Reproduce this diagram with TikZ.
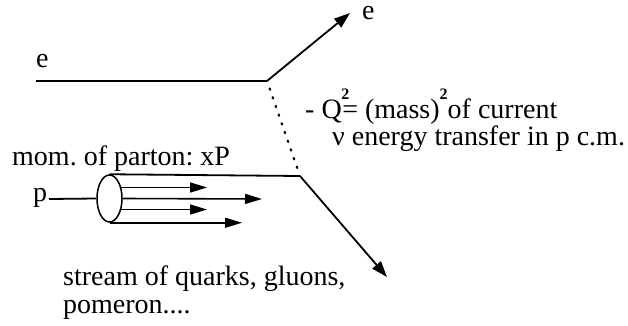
\documentclass[tikz,border=0pt]{standalone}
\usepackage{fontspec}
\setmainfont{Liberation Serif}
\usetikzlibrary{arrows.meta,shapes.geometric}
\newcommand{\supo}[1]{\rlap{\raisebox{0.66em}{\fontsize{16}{16}\selectfont\bfseries #1}}}
\frenchspacing
\begin{document}
\begin{tikzpicture}[x=1pt,y=-1pt,
  lbl/.style={anchor=base west,inner sep=0pt,font=\fontsize{28}{32}\selectfont\frenchspacing},
  ln/.style={line width=1.8pt},
  arr/.style={line width=1.8pt,-{Triangle[length=16pt,width=11pt]}},
  arrs/.style={line width=1.6pt,-{Triangle[length=17pt,width=10pt]}},
  dotl/.style={line width=2.3pt,line cap=round,dash pattern=on 1.2pt off 8pt,shorten <=8pt,shorten >=7pt}]
\useasboundingbox (0,0) rectangle (628,326);
% vertices
\coordinate (ein) at (36,81);
\coordinate (v1) at (267,81);
\coordinate (eout) at (350,13);
\coordinate (v2) at (300,176);
\coordinate (qout) at (387,277);
% proton cylinder
\node[draw,ellipse,line width=1.5pt,minimum width=25pt,minimum height=47pt,inner sep=0pt] (cyl) at (109.5,198.5) {};
\coordinate (pin) at (49,199);
\coordinate (t1) at (207,188);
\coordinate (t2) at (262,199);
\coordinate (t3) at (207,211);
\coordinate (t4) at (242,222);
% labels
\node[lbl] (le1) at (36,68) {e};
\node[lbl] (le2) at (362,20) {e};
\node[lbl] (lq) at (305,118) {- Q\kern-0.5pt\supo{2}\kern1pt= (mass)\supo{2}\kern8pt of current};
\node[lbl] (lnu) at (332,145) {ν energy transfer in p c.m.};
\node[lbl] (lmom) at (12,165) {mom. of parton: xP};
\node[lbl] (lp) at (33,201) {p};
\node[lbl] (ls1) at (63,285) {stream of quarks, gluons,};
\node[lbl] (ls2) at (63,313) {pomeron....};
% lines
\draw[ln] (ein) -- (v1);
\draw[arr] (v1) -- (eout);
\draw[dotl] (v1) -- (v2);
\draw[ln] (cyl.north) -- (v2);
\draw[arr] (v2) -- (qout);
\draw[ln] (pin) -- (cyl.west);
\draw[arrs] (cyl.43) -- (cyl.43 -| t1);
\draw[arrs] (cyl.east) -- (t2);
\draw[arrs] (cyl.-43) -- (cyl.-43 -| t3);
\draw[arrs] (cyl.south) -- (cyl.south -| t4);
\end{tikzpicture}
\end{document}
